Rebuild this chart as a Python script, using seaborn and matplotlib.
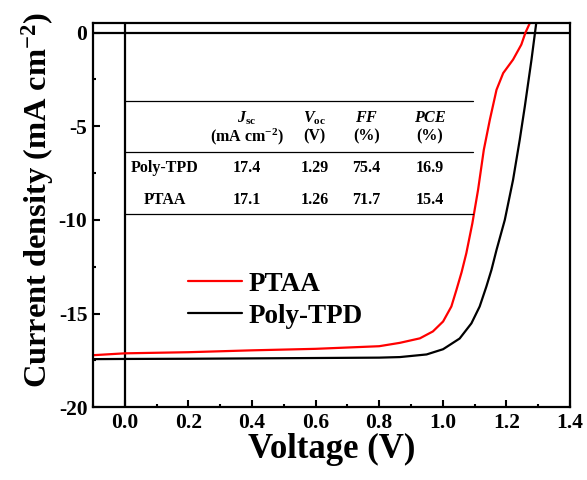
import matplotlib
matplotlib.use("Agg")
import matplotlib.pyplot as plt
from matplotlib.ticker import MultipleLocator
import seaborn as sns
import pandas as pd

# J-V curves (voltage in V, current density in mA cm^-2)
voltage_ptaa = [-0.1, 0.0, 0.2, 0.4, 0.6, 0.8, 0.865, 0.928, 0.969, 1.001, 1.027,
                1.043, 1.059, 1.074, 1.093, 1.111, 1.129, 1.148, 1.169, 1.19,
                1.221, 1.247, 1.26, 1.274]
current_ptaa = [-17.22, -17.12, -17.06, -16.96, -16.88, -16.74, -16.56, -16.32,
                -15.95, -15.42, -14.62, -13.73, -12.8, -11.78, -10.18, -8.39,
                -6.26, -4.65, -3.05, -2.16, -1.44, -0.64, 0.0, 0.52]

voltage_tpd = [-0.1, 0.0, 0.2, 0.4, 0.6, 0.8, 0.865, 0.949, 1.001, 1.053, 1.09,
               1.116, 1.137, 1.153, 1.169, 1.195, 1.221, 1.242, 1.258, 1.279,
               1.29, 1.294]
current_tpd = [-17.43, -17.42, -17.41, -17.39, -17.37, -17.35, -17.32, -17.18,
               -16.9, -16.33, -15.52, -14.62, -13.56, -12.67, -11.6, -10.0,
               -7.86, -5.72, -3.94, -1.44, 0.0, 0.52]

series_names = ["PTAA", "Poly-TPD"]
series_colors = {"PTAA": "#ff0000", "Poly-TPD": "#000000"}

# Photovoltaic parameter table
table_devices = ["Poly-TPD", "PTAA"]
table_jsc = ["17.4", "17.1"]
table_voc = ["1.29", "1.26"]
table_ff = ["75.4", "71.7"]
table_pce = ["16.9", "15.4"]
table_head_top = [r"$J_{\mathrm{sc}}$", r"$V_{\mathrm{oc}}$", r"$FF$", r"$PCE$"]
table_head_bottom = [r"(mA cm$^{-2}$)", "(V)", "(%)", "(%)"]

x_ticks = [0.0, 0.2, 0.4, 0.6, 0.8, 1.0, 1.2, 1.4]
y_ticks = [0, -5, -10, -15, -20]

df = pd.concat([
    pd.DataFrame({"Voltage": voltage_ptaa, "J": current_ptaa, "Device": "PTAA"}),
    pd.DataFrame({"Voltage": voltage_tpd, "J": current_tpd, "Device": "Poly-TPD"}),
], ignore_index=True)

sns.set_theme(style="ticks")
plt.rcParams["font.family"] = ["Liberation Serif", "DejaVu Serif"]
plt.rcParams["font.weight"] = "bold"
plt.rcParams["text.color"] = "black"
plt.rcParams["axes.labelcolor"] = "black"
plt.rcParams["xtick.color"] = "black"
plt.rcParams["ytick.color"] = "black"
plt.rcParams["axes.unicode_minus"] = False
plt.rcParams["mathtext.fontset"] = "custom"
plt.rcParams["mathtext.rm"] = "Liberation Serif:bold"
plt.rcParams["mathtext.it"] = "Liberation Serif:italic:bold"
plt.rcParams["mathtext.bf"] = "Liberation Serif:bold"

fig = plt.figure(figsize=(5.87, 4.8), dpi=100)
ax = fig.add_axes([0.1584, 0.1515, 0.8126, 0.8012])

sns.lineplot(data=df, x="Voltage", y="J", hue="Device", hue_order=series_names,
             palette=series_colors, sort=False, estimator=None, linewidth=1.6,
             ax=ax, legend=True)

ax.axhline(0, color="black", linewidth=1.6, zorder=1)
ax.axvline(0, color="black", linewidth=1.6, zorder=1)

ax.set_xlim(-0.1, 1.4)
ax.set_ylim(-20, 0.53)
ax.set_xticks(x_ticks)
ax.set_xticklabels([f"{v:.1f}" for v in x_ticks])
ax.set_yticks(y_ticks)
ax.set_yticklabels([str(v) for v in y_ticks])
ax.xaxis.set_minor_locator(MultipleLocator(0.1))
ax.yaxis.set_minor_locator(MultipleLocator(2.5))
ax.tick_params(which="major", direction="in", length=5, width=1.5,
               labelsize=15.5, pad=4, top=False, right=False)
ax.tick_params(which="minor", direction="in", length=2.5, width=1.5,
               top=False, right=False)
for lab in ax.get_xticklabels() + ax.get_yticklabels():
    lab.set_fontweight("bold")
for sp in ax.spines.values():
    sp.set_visible(True)
    sp.set_linewidth(1.6)
    sp.set_color("black")

ax.set_xlabel("Voltage (V)", fontsize=25, fontweight="bold", labelpad=0)
ax.set_ylabel(r"Current density (mA cm$^{-2}$)", fontsize=23.3,
              fontweight="bold")
ax.yaxis.set_label_coords(-0.078, 0.539)

leg = ax.legend(loc="upper left", bbox_to_anchor=(0.177, 0.38), frameon=False,
                fontsize=19.5, handlelength=2.0, handletextpad=0.22,
                labelspacing=0.25, borderaxespad=0)
for line in leg.get_lines():
    line.set_linewidth(1.6)
for t in leg.get_texts():
    t.set_fontweight("bold")

# Parameter table drawn inside the axes
rule_x0, rule_x1 = 0.0, 1.094
for yv in (-3.65, -6.37, -9.68):
    ax.plot([rule_x0, rule_x1], [yv, yv], color="black", linewidth=0.9, zorder=2)

col_x = [0.383, 0.597, 0.76, 0.959]
for cx, top, bot in zip(col_x, table_head_top, table_head_bottom):
    ax.text(cx, -4.55, top, ha="center", va="center", fontsize=11.5, fontweight="bold")
    ax.text(cx, -5.55, bot, ha="center", va="center", fontsize=11.5, fontweight="bold")

row_y = [-7.24, -8.93]
for ry, dev, j, v, ff, pce in zip(row_y, table_devices, table_jsc, table_voc,
                                  table_ff, table_pce):
    ax.text(0.126, ry, dev, ha="center", va="center", fontsize=11.5, fontweight="bold")
    for cx, val in zip(col_x, (j, v, ff, pce)):
        ax.text(cx, ry, val, ha="center", va="center", fontsize=11.5, fontweight="bold")

fig.savefig("out.png", dpi=100)
